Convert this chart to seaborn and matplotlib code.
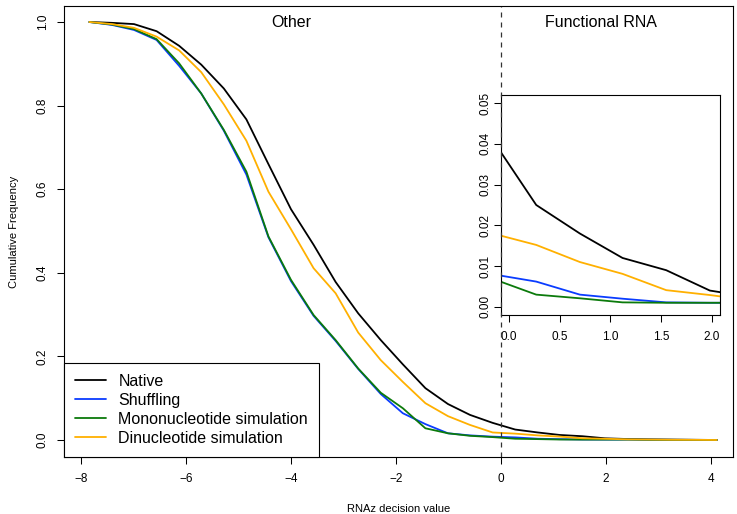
import numpy as np
import pandas as pd
import matplotlib
matplotlib.use("Agg")
import matplotlib.pyplot as plt
from matplotlib.lines import Line2D
import seaborn as sns

# ---- data ----
decision_values = [-7.84, -7.41, -6.99, -6.56, -6.13, -5.71, -5.28, -4.85, -4.43, -4.00,
                   -3.57, -3.15, -2.72, -2.29, -1.87, -1.44, -1.01, -0.59, -0.16, 0.27,
                   0.70, 1.12, 1.55, 1.98, 2.41, 2.83, 3.26, 3.69, 4.11]
native = [1.000, 0.998, 0.995, 0.978, 0.943, 0.898, 0.841, 0.767, 0.660, 0.552,
          0.467, 0.378, 0.303, 0.239, 0.181, 0.124, 0.086, 0.060, 0.041, 0.025,
          0.018, 0.012, 0.009, 0.004, 0.0023, 0.0015, 0.0010, 0.0005, 0.0]
shuffling = [1.000, 0.993, 0.981, 0.957, 0.895, 0.829, 0.740, 0.635, 0.485, 0.380,
             0.297, 0.237, 0.170, 0.110, 0.064, 0.038, 0.016, 0.011, 0.008, 0.0062,
             0.0030, 0.0020, 0.0011, 0.0010, 0.0010, 0.0005, 0.0003, 0.0002, 0.0]
mononucleotide = [1.000, 0.994, 0.983, 0.959, 0.901, 0.829, 0.742, 0.642, 0.487, 0.383,
                  0.299, 0.239, 0.171, 0.113, 0.076, 0.028, 0.016, 0.010, 0.0069, 0.0030,
                  0.0021, 0.0011, 0.0010, 0.0010, 0.0010, 0.0005, 0.0003, 0.0002, 0.0]
dinucleotide = [1.000, 0.995, 0.986, 0.965, 0.932, 0.880, 0.803, 0.716, 0.594, 0.504,
                0.411, 0.351, 0.257, 0.191, 0.139, 0.088, 0.057, 0.036, 0.018, 0.0152,
                0.0110, 0.0081, 0.0041, 0.0029, 0.0015, 0.0010, 0.0005, 0.0003, 0.0]

series_names = ["Native", "Shuffling", "Mononucleotide simulation", "Dinucleotide simulation"]
series_colors = ["#000000", "#0a3cff", "#0b7a0b", "#ffb000"]
main_xticks = [-8, -6, -4, -2, 0, 2, 4]
main_yticks = [0.0, 0.2, 0.4, 0.6, 0.8, 1.0]
inset_xticks = [0.0, 0.5, 1.0, 1.5, 2.0]
inset_yticks = [0.00, 0.01, 0.02, 0.03, 0.04, 0.05]
region_labels = ["Other", "Functional RNA"]

df = pd.concat([
    pd.DataFrame({"x": decision_values, "y": vals, "series": name})
    for name, vals in zip(series_names, [native, shuffling, mononucleotide, dinucleotide])
], ignore_index=True)
palette = dict(zip(series_names, series_colors))

sns.set_theme(style="white")
plt.rcParams["font.family"] = ["Liberation Sans", "DejaVu Sans"]

W, H = 737, 514
fig = plt.figure(figsize=(W / 100, H / 100), dpi=100)
fig.patch.set_facecolor("white")


def style_axes(a, ypad, xpad):
    a.tick_params(axis="both", which="major", direction="out", length=5, width=0.75,
                  color="black", labelsize=8.5, labelcolor="black",
                  bottom=True, left=True, top=False, right=False)
    a.tick_params(axis="x", pad=xpad)
    a.tick_params(axis="y", pad=ypad, labelrotation=90)
    for lab in a.get_yticklabels():
        lab.set_verticalalignment("center")
    for sp in a.spines.values():
        sp.set_visible(True)
        sp.set_color("black")
        sp.set_linewidth(0.8)


# main axes
ax = fig.add_axes([64 / W, 1 - 457 / H, (733 - 64) / W, (457 - 6) / H])
sns.lineplot(data=df, x="x", y="y", hue="series", palette=palette, hue_order=series_names,
             sort=False, legend=False, linewidth=1.3, ax=ax)
ax.set_xlim(-8.324, 4.419)
ax.set_ylim(-0.0407, 1.0383)
ax.set_xticks(main_xticks)
ax.set_xticklabels([f"{t:d}".replace("-", "\u2212") for t in main_xticks])
ax.set_yticks(main_yticks)
ax.set_yticklabels([f"{t:.1f}" for t in main_yticks])
style_axes(ax, ypad=6, xpad=6.5)
ax.set_xlabel("RNAz decision value", fontsize=8, color="black")
ax.set_ylabel("Cumulative Frequency", fontsize=8, color="black")
ax.xaxis.set_label_coords(0.5, -0.104)
ax.yaxis.set_label_coords(-0.067, 0.5)
ax.axvline(0, color="#333333", linewidth=0.9, linestyle=(0, (4, 4)))
ax.text(-4.0, 1.0, region_labels[0], ha="center", va="center", fontsize=11.5, color="black")
ax.text(1.9, 1.0, region_labels[1], ha="center", va="center", fontsize=11.5, color="black")

handles = [Line2D([0], [0], color=c, linewidth=1.3) for c in series_colors]
leg = ax.legend(handles, series_names, loc="lower left", bbox_to_anchor=(0, 0),
                borderaxespad=0, frameon=True, fancybox=False, framealpha=1,
                edgecolor="black", fontsize=11.5, handlelength=1.9, handletextpad=0.8,
                labelspacing=0.25, borderpad=0.7)
leg.get_frame().set_linewidth(0.8)
for t in leg.get_texts():
    t.set_color("black")

ax.set_zorder(2)
ax.patch.set_visible(False)

# inset axes
axi = fig.add_axes([500.7 / W, 1 - 315 / H, 219.3 / W, 220 / H])
axi.set_zorder(1)
sns.lineplot(data=df, x="x", y="y", hue="series", palette=palette, hue_order=series_names,
             sort=False, legend=False, linewidth=1.3, ax=axi)
axi.set_xlim(-0.08, 2.08)
axi.set_ylim(-0.002, 0.052)
axi.set_xticks(inset_xticks)
axi.set_xticklabels([f"{t:.1f}" for t in inset_xticks])
axi.set_yticks(inset_yticks)
axi.set_yticklabels([f"{t:.2f}" for t in inset_yticks])
style_axes(axi, ypad=1.5, xpad=6.5)
axi.set_xlabel("")
axi.set_ylabel("")
axi.set_facecolor("white")

fig.savefig("out.png", dpi=100, facecolor="white")
